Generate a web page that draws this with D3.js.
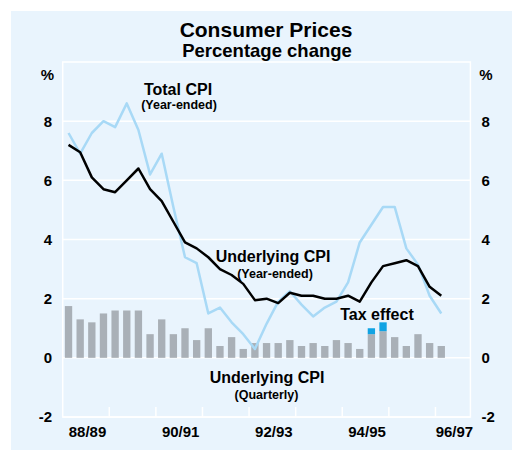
<!DOCTYPE html>
<html>
<head>
<meta charset="utf-8">
<script src="https://cdn.jsdelivr.net/npm/d3@7.9.0/dist/d3.min.js"></script>
<style>
  body { margin: 0; background: #fff; }
  svg text { font-family: "Liberation Sans", Arial, Helvetica, sans-serif; font-weight: bold; fill: #000; }
</style>
</head>
<body>
<svg id="chart" width="512" height="450"></svg>
<script>
// quarters from Sep-88 to Sep-96
const quarters = d3.range(33);
// underlying CPI, quarterly % change
const underlyingQ = [1.75, 1.3, 1.2, 1.5, 1.6, 1.6, 1.6, 0.8, 1.3, 0.8, 1.0, 0.6, 1.0, 0.4, 0.7, 0.3,
  0.5, 0.5, 0.5, 0.6, 0.4, 0.5, 0.4, 0.6, 0.5, 0.3, 0.8, 0.9, 0.7, 0.4, 0.8, 0.5, 0.4];
// tax effect stacked on top of the quarterly bars
const taxEffect = [0, 0, 0, 0, 0, 0, 0, 0, 0, 0, 0, 0, 0, 0, 0, 0,
  0, 0, 0, 0, 0, 0, 0, 0, 0, 0, 0.2, 0.3, 0, 0, 0, 0, 0];
// year-ended lines
const underlyingY = [7.2, 6.95, 6.1, 5.7, 5.6, 6.0, 6.4, 5.7, 5.3, 4.6, 3.9, 3.7, 3.4, 3.0, 2.8, 2.5,
  1.95, 2.0, 1.85, 2.2, 2.1, 2.1, 2.0, 2.0, 2.1, 1.9, 2.55, 3.1, 3.2, 3.3, 3.1, 2.4, 2.1];
const totalY = [7.6, 6.9, 7.6, 8.0, 7.8, 8.6, 7.7, 6.2, 6.9, 5.1, 3.4, 3.2, 1.5, 1.7, 1.2, 0.8,
  0.3, 1.15, 1.9, 2.25, 1.8, 1.4, 1.7, 1.9, 2.55, 3.9, 4.5, 5.1, 5.1, 3.7, 3.15, 2.1, 1.5];
// axes
const yTicks = [-2, 0, 2, 4, 6, 8];
const yearLabels = ["88/89", "90/91", "92/93", "94/95", "96/97"];
const yearStarts = [0, 8, 16, 24, 32]; // quarter index where each labelled year begins

const svg = d3.select('#chart');
const pL = 62.7, pR = 470.4, pT = 62, pB = 417;

svg.append('rect').attr('x', 11).attr('y', 11).attr('width', 501).attr('height', 439)
  .attr('fill', '#e9f4fd');

const x = d3.scaleBand().domain(d3.range(35)).range([pL, pR]).paddingInner(0.37).paddingOuter(0.185);
const xq = d3.scaleLinear().domain([0, 35]).range([pL, pR]);
const y = d3.scaleLinear().domain([-2, 10]).range([pB, pT]);
const cx = i => x(i) + x.bandwidth() / 2;

// grid
svg.append('g').selectAll('line').data(yTicks).join('line')
  .attr('x1', pL).attr('x2', pR)
  .attr('y1', d => y(d)).attr('y2', d => y(d))
  .attr('stroke', '#fff').attr('stroke-width', 1.5);
svg.append('rect').attr('x', pL).attr('y', pT).attr('width', pR - pL).attr('height', pB - pT)
  .attr('fill', 'none').attr('stroke', '#fff').attr('stroke-width', 1.5);

// year ticks on the bottom edge
svg.append('g').selectAll('line').data(d3.range(4, 35, 4)).join('line')
  .attr('x1', d => xq(d)).attr('x2', d => xq(d))
  .attr('y1', pB).attr('y2', pB - 10)
  .attr('stroke', '#fff').attr('stroke-width', 1.5);

// bars
svg.append('g').selectAll('rect').data(quarters).join('rect')
  .attr('x', i => x(i)).attr('width', x.bandwidth())
  .attr('y', i => y(underlyingQ[i])).attr('height', i => y(0) - y(underlyingQ[i]))
  .attr('fill', '#a9b0b7');
svg.append('g').selectAll('rect').data(quarters.filter(i => taxEffect[i] > 0)).join('rect')
  .attr('x', i => x(i)).attr('width', x.bandwidth())
  .attr('y', i => y(underlyingQ[i] + taxEffect[i]))
  .attr('height', i => y(underlyingQ[i]) - y(underlyingQ[i] + taxEffect[i]))
  .attr('fill', '#10a3e3');

// lines
const line = vals => d3.line().x(i => cx(i)).y(i => y(vals[i]))(quarters);
svg.append('path').attr('d', line(totalY)).attr('fill', 'none')
  .attr('stroke', '#a8d9f6').attr('stroke-width', 2.5).attr('stroke-linejoin', 'round');
svg.append('path').attr('d', line(underlyingY)).attr('fill', 'none')
  .attr('stroke', '#000').attr('stroke-width', 2.5).attr('stroke-linejoin', 'round');

// y labels both sides
const yl = svg.append('g').style('font-size', '15px');
yl.selectAll('.l').data(yTicks).join('text').attr('class', 'l')
  .attr('x', 52).attr('y', d => y(d)).attr('dy', '0.36em').attr('text-anchor', 'end').text(d => d);
yl.selectAll('.r').data(yTicks).join('text').attr('class', 'r')
  .attr('x', 481.5).attr('y', d => y(d)).attr('dy', '0.36em').text(d => d);
yl.append('text').attr('x', 47.5).attr('y', 80).attr('text-anchor', 'middle').text('%');
yl.append('text').attr('x', 486).attr('y', 80).attr('text-anchor', 'middle').text('%');

// x labels
svg.append('g').style('font-size', '15px').selectAll('text').data(yearLabels).join('text')
  .attr('x', (d, i) => Math.min(xq(yearStarts[i] + 2) + 1.5, pR - 16))
  .attr('y', 437).attr('text-anchor', 'middle').text(d => d);

// titles
svg.append('text').attr('x', 266).attr('y', 37).attr('text-anchor', 'middle')
  .style('font-size', '21px').text('Consumer Prices');
svg.append('text').attr('x', 267).attr('y', 57).attr('text-anchor', 'middle')
  .style('font-size', '18.5px').text('Percentage change');

// annotations
const notes = [
  { t: 'Total CPI', x: 178, y: 95, s: 16 },
  { t: '(Year-ended)', x: 179, y: 109, s: 12.5 },
  { t: 'Underlying CPI', x: 273, y: 262, s: 16 },
  { t: '(Year-ended)', x: 275, y: 278, s: 12.5 },
  { t: 'Tax effect', x: 377, y: 320, s: 16 },
  { t: 'Underlying CPI', x: 267, y: 383, s: 16 },
  { t: '(Quarterly)', x: 266.5, y: 399, s: 12.5 }
];
svg.append('g').selectAll('text').data(notes).join('text')
  .attr('x', d => d.x).attr('y', d => d.y).attr('text-anchor', 'middle')
  .style('font-size', d => d.s + 'px').text(d => d.t);
</script>
</body>
</html>
